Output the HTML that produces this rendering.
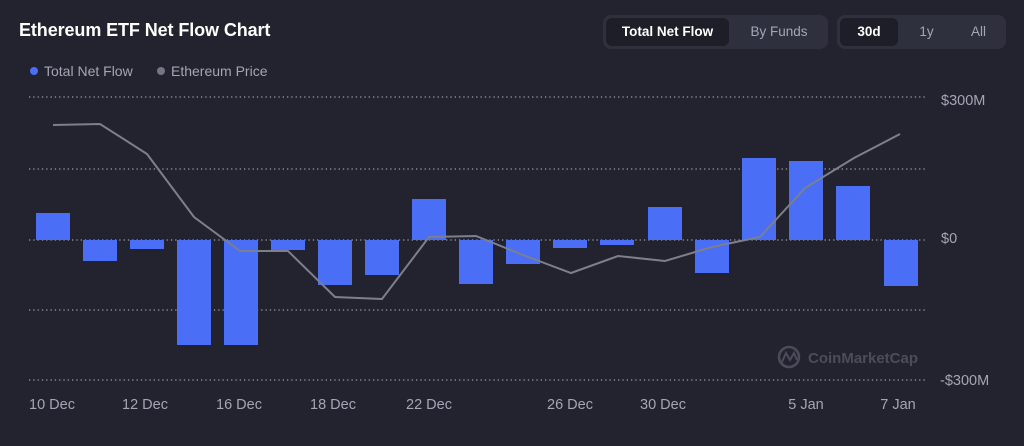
<!DOCTYPE html>
<html><head><meta charset="utf-8"><style>
html,body{margin:0;padding:0;background:#22232f;width:1024px;height:446px;overflow:hidden;font-family:"Liberation Sans",sans-serif;}
.t{position:absolute;left:19px;top:20px;color:#fff;font-weight:bold;font-size:18px;letter-spacing:-0.1px;}
.lg{position:absolute;top:63px;font-size:14px;color:#a3a6b4;}
.dot{display:inline-block;width:8px;height:8px;border-radius:50%;margin-right:6px;vertical-align:1px;}
.grp{position:absolute;top:15px;height:34px;background:#2e303e;border-radius:8px;}
.btn{position:absolute;top:3px;height:28px;line-height:28px;text-align:center;font-size:13.5px;color:#a3a6b4;border-radius:6px;}
.act{background:#1d1e28;color:#fff;font-weight:bold;}
</style></head><body>
<div class="t">Ethereum ETF Net Flow Chart</div>
<div class="lg" style="left:30px"><span class="dot" style="background:#4a6ef5"></span>Total Net Flow</div>
<div class="lg" style="left:157px"><span class="dot" style="background:#737685"></span>Ethereum Price</div>
<div class="grp" style="left:603px;width:225px">
<div class="btn act" style="left:3px;width:123px">Total Net Flow</div>
<div class="btn" style="left:130px;width:92px">By Funds</div></div>
<div class="grp" style="left:837px;width:169px">
<div class="btn act" style="left:3px;width:58px">30d</div>
<div class="btn" style="left:62px;width:55px">1y</div>
<div class="btn" style="left:114px;width:55px">All</div></div>
<svg width="1024" height="446" style="position:absolute;left:0;top:0">
<g stroke="#9a9dab" stroke-width="1.3" stroke-dasharray="1.3 3">
<line x1="29" x2="925" y1="97" y2="97"/><line x1="29" x2="925" y1="169" y2="169"/>
<line x1="29" x2="925" y1="240" y2="240"/><line x1="29" x2="925" y1="310" y2="310"/>
<line x1="29" x2="925" y1="380" y2="380"/></g>
<g fill="#4a6ef5">
<rect x="36" y="213" width="34" height="27"/>
<rect x="83" y="240" width="34" height="21"/>
<rect x="130" y="240" width="34" height="9"/>
<rect x="177" y="240" width="34" height="105"/>
<rect x="224" y="240" width="34" height="105"/>
<rect x="271" y="240" width="34" height="10"/>
<rect x="318" y="240" width="34" height="45"/>
<rect x="365" y="240" width="34" height="35"/>
<rect x="412" y="199" width="34" height="41"/>
<rect x="459" y="240" width="34" height="44"/>
<rect x="506" y="240" width="34" height="24"/>
<rect x="553" y="240" width="34" height="8"/>
<rect x="600" y="240" width="34" height="5"/>
<rect x="648" y="207" width="34" height="33"/>
<rect x="695" y="240" width="34" height="33"/>
<rect x="742" y="158" width="34" height="82"/>
<rect x="789" y="161" width="34" height="79"/>
<rect x="836" y="186" width="34" height="54"/>
<rect x="884" y="240" width="34" height="46"/>
</g>
<polyline fill="none" stroke="#7c7f8c" stroke-width="2" points="53,125 100,124 147,154 194,217 240,251 288,251 335,297 382,299 429,237 476,236 523,255 571,273 618,256 665,261 712,247 760,237 805,188 854,158 900,134"/>
<g fill="#a3a6b4" font-size="14.5" font-family="Liberation Sans,sans-serif">
<text x="941" y="105">$300M</text><text x="941" y="243">$0</text><text x="940" y="385">-$300M</text>
<g text-anchor="middle">
<text x="52" y="409">10 Dec</text><text x="145" y="409">12 Dec</text><text x="239" y="409">16 Dec</text>
<text x="333" y="409">18 Dec</text><text x="429" y="409">22 Dec</text><text x="570" y="409">26 Dec</text>
<text x="663" y="409">30 Dec</text><text x="806" y="409">5 Jan</text><text x="898" y="409">7 Jan</text></g></g>
<g opacity="0.55">
<circle cx="789" cy="357" r="10" fill="none" stroke="#6c6f7d" stroke-width="2.5"/>
<polyline points="782,362 786,353 790,360 794,353 797,360" fill="none" stroke="#6c6f7d" stroke-width="2"/>
<text x="808" y="363" fill="#6c6f7d" font-size="15" font-weight="bold" font-family="Liberation Sans,sans-serif">CoinMarketCap</text></g>
</svg>
</body></html>
